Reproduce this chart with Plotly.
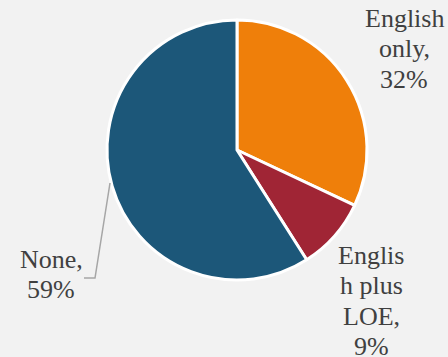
import plotly.graph_objects as go

labels = ["English only", "English plus LOE", "None"]
values = [32, 9, 59]
colors = ["#EF7F0A", "#A02535", "#1C5779"]
# label text lines as displayed (wrapped)
label_lines = [
    ["English", "only,", "32%"],
    ["Englis", "h plus", "LOE,", "9%"],
    ["None,", "59%"],
]

W, H = 448, 357
fig = go.Figure(go.Pie(
    labels=labels, values=values, sort=False, direction="clockwise",
    rotation=0, marker=dict(colors=colors, line=dict(color="white", width=3)),
    textinfo="none", hoverinfo="label+percent", showlegend=False,
    domain=dict(x=[107 / W, 367 / W], y=[1 - 280 / H, 1 - 20 / H]),
))

# label placement (px): center x, first-line baseline y
placements = [(404, 28), (371, 265), (51, 269)]
spacing = 30.3
font = dict(family="Liberation Serif, Times New Roman, serif", size=26, color="#404040")
anns = []
for lines, (cx, by) in zip(label_lines, placements):
    for i, t in enumerate(lines):
        b = by + i * spacing
        anns.append(dict(text=t, x=cx / W, y=1 - b / H, xref="paper", yref="paper",
                         xanchor="center", yanchor="bottom", yshift=-7,
                         showarrow=False, font=font))

fig.update_layout(
    width=W, height=H, margin=dict(l=0, r=0, t=0, b=0),
    paper_bgcolor="#F2F2F2", plot_bgcolor="#F2F2F2",
    annotations=anns,
    shapes=[dict(type="path", xref="paper", yref="paper",
                 path=f"M {84/W},{1-278/H} L {95/W},{1-278/H} L {110/W},{1-183/H}",
                 line=dict(color="#A6A6A6", width=1.5))],
)
fig.write_html("out.html")
